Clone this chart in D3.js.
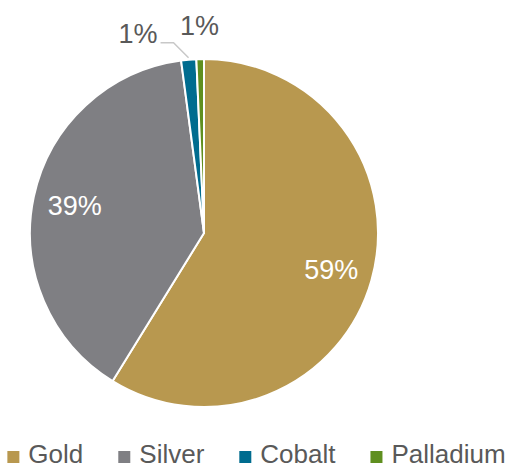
<!DOCTYPE html>
<html>
<head>
<meta charset="utf-8">
<script src="https://cdn.jsdelivr.net/npm/d3@7"></script>
<style>
  body { margin: 0; background: #fff; }
  svg text { font-family: "Liberation Sans", Arial, sans-serif; }
</style>
</head>
<body>
<div id="chart"></div>
<script>
var metals = ["Gold", "Silver", "Cobalt", "Palladium"]
var shares = [58.8, 39.1, 1.4, 0.7]
var colors = ["#B8984F", "#7F7F83", "#006C8F", "#5F8F1F"]

var width = 515, height = 469
var cx = 204, cy = 233, radius = 174
var fontSize = "27px"

var data = metals.map(function(m, i){ return {name: m, value: shares[i], color: colors[i]} })

var svg = d3.select("#chart")
  .append("svg")
  .attr("width", width)
  .attr("height", height)

var pie = d3.pie()
  .sort(null)
  .value(d => d.value)

var arcs = pie(data)

var arc = d3.arc()
  .innerRadius(0)
  .outerRadius(radius)

var g = svg.append("g")
  .attr("transform", "translate(" + cx + "," + cy + ")")

g.selectAll("path")
  .data(arcs)
  .join("path")
    .attr("d", arc)
    .attr("fill", d => d.data.color)
    .attr("stroke", "#fff")
    .attr("stroke-width", 2)
    .attr("stroke-linejoin", "round")

var fmt = d => Math.round(d.data.value) + "%"
function polar(r, a){ return [r * Math.sin(a), -r * Math.cos(a)] }

// big slices - labels inside
var labelArc = d3.arc().innerRadius(radius * 0.76).outerRadius(radius * 0.76)
g.selectAll("text.inside")
  .data(arcs.filter(d => d.data.value > 10))
  .join("text")
    .attr("class", "inside")
    .attr("transform", d => "translate(" + labelArc.centroid(d) + ")")
    .attr("text-anchor", "middle")
    .attr("dy", "0.35em")
    .style("font-size", fontSize)
    .style("fill", "#fff")
    .text(fmt)

// Cobalt: label pulled up-left with a leader line
var cob = arcs[2], cobMid = (cob.startAngle + cob.endAngle) / 2
var e = polar(radius + 2, cobMid)
var bend = [e[0] - 15, e[1] - 15]
var lineEnd = [bend[0] - 13, bend[1]]
g.append("polyline")
  .attr("points", [e, bend, lineEnd].map(p => p.join(",")).join(" "))
  .attr("fill", "none")
  .attr("stroke", "#C8C8C8")
  .attr("stroke-width", 1.5)
g.append("text")
  .attr("x", lineEnd[0] - 3).attr("y", lineEnd[1])
  .attr("text-anchor", "end")
  .style("font-size", fontSize)
  .style("fill", "#595959")
  .text(fmt(cob))

// Palladium: label straight above
var pal = arcs[3], palMid = (pal.startAngle + pal.endAngle) / 2
var pp = polar(radius + 34, palMid)
g.append("text")
  .attr("x", pp[0]).attr("y", pp[1])
  .attr("text-anchor", "middle")
  .attr("dy", "0.35em")
  .style("font-size", fontSize)
  .style("fill", "#595959")
  .text(fmt(pal))

// legend
var legend = svg.append("g")
var lx = 0, gap = 35
data.forEach(function(d){
  var item = legend.append("g")
  item.append("rect")
    .attr("x", 0).attr("y", -12)
    .attr("width", 12).attr("height", 12)
    .attr("fill", d.color)
  var t = item.append("text")
    .attr("x", 21).attr("y", 0)
    .style("font-size", "26px")
    .style("fill", "#595959")
    .text(d.name)
  item.attr("transform", "translate(" + lx + ",0)")
  lx += 21 + t.node().getComputedTextLength() + gap
})
lx -= gap
legend.attr("transform", "translate(" + ((width - lx) / 2 - 1) + ",463)")
</script>
</body>
</html>
